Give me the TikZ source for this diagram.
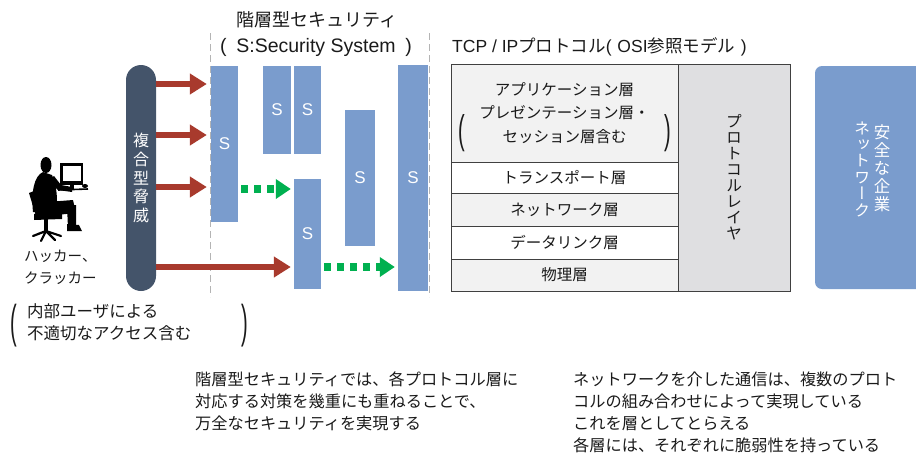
\documentclass[tikz,border=0pt]{standalone}
\usepackage{fontspec}
\usepackage{graphicx}
\setmainfont{Noto Sans CJK JP}
\newfontfamily\lat{Liberation Sans}
% vertical glyph forms (long vowel mark, small kana) for stacked text
\newfontfamily\vjp[RawFeature={+vert}]{Noto Sans CJK JP}
\usetikzlibrary{arrows.meta,calc}

\definecolor{threatfill}{HTML}{44546A}
\definecolor{attackred}{HTML}{A83A2D}
\definecolor{passgreen}{HTML}{00B050}
\definecolor{secblue}{HTML}{7A9CCD}
\definecolor{rowgray}{HTML}{F2F2F2}
\definecolor{colgray}{HTML}{DFDFE1}
\definecolor{gridline}{HTML}{404040}
\definecolor{guidegray}{HTML}{B4B4B4}
\definecolor{ink}{HTML}{1A1A1A}

\newcommand{\tallparen}[2]{\scalebox{1}[#2]{\lat\fontsize{20}{20}\selectfont #1}}

\begin{document}
\begin{tikzpicture}[x=1pt,y=-1pt,
  txt/.style={inner sep=0pt, text=ink},
  threat/.style={fill=threatfill, rounded corners=15pt, minimum width=30pt,
    minimum height=226pt, inner sep=0pt, text=white, align=center,
    font=\fontsize{16}{18.6}\selectfont},
  sbox/.style={fill=secblue, inner sep=0pt, text=white,
    font=\lat\fontsize{17}{17}\selectfont},
  attack/.style={draw=attackred, line width=6.5pt,
    -{Triangle[length=17pt,width=20pt]}},
  passflow/.style={draw=passgreen, line width=7.5pt, dash pattern=on 7pt off 6pt,
    -{Triangle[length=15pt,width=19pt]}},
  guide/.style={draw=guidegray, line width=1pt, dash pattern=on 7pt off 4pt},
  cell/.style={draw=gridline, line width=1pt, inner sep=0pt, text=ink,
    align=center, font=\fontsize{15.5}{23.5}\selectfont},
  body/.style={txt, anchor=north west, align=left,
    font=\fontsize{16.2}{22}\selectfont},
]
\clip (0,0) rectangle (916,456);

% ---- attacker side ----
% hacker silhouette
\begin{scope}[fill=black]
  \fill (46,165) ellipse (5.5pt and 8pt);
  \fill (43,172) .. controls (34,176) and (31,192) .. (33,212)
        -- (56,213) .. controls (58,200) and (57,186) .. (52,175) -- cycle;
  \fill (48,180) -- (58,190) -- (72,192) -- (72,187) -- (61,185) -- (54,176) -- cycle;
  \fill (35,203) -- (73,200) -- (76,213) -- (36,217) -- cycle;
  \fill (67,206) -- (76,205) -- (76,227) -- (68,228) -- cycle;
  \fill (67,224) -- (79,225) -- (82,231) -- (67,231) -- cycle;
  \fill (29,193) -- (34,191) -- (41,214) -- (36,216) -- cycle;
  \fill (34,214) -- (62,213) -- (62,219) -- (34,220) -- cycle;
  \fill (44,219) rectangle (48,232);
  \draw[line width=2.2pt, line cap=round]
    (46,231) -- (33,236) (46,231) -- (61,236) (46,231) -- (41,241)
    (46,231) -- (55,240) (46,231) -- (38,234);
  \fill (60,163) rectangle (83,185);
  \fill[white] (62.5,166) rectangle (80.5,181);
  \fill (70,184) rectangle (74,190);
  \draw[line width=1.6pt] (58,190) -- (88,189);
  \fill (85,186) ellipse (3pt and 2pt);
\end{scope}

\node[txt, anchor=north west, align=left, font=\fontsize{14.5}{22}\selectfont]
  (hacker) at (24,250) {ハッカー、\\クラッカー};

\node[txt, anchor=north west, align=left, font=\fontsize{16.5}{22}\selectfont]
  (insider) at (27,303) {内部ユーザによる\\不適切なアクセス含む};
\node[txt] (insiderL) at (14,326) {\tallparen{(}{2.3}};
\node[txt] (insiderR) at (245,326) {\tallparen{)}{2.3}};

% composite threat pillar
\node[threat] (threat) at (141,178) {複\\合\\型\\脅\\威};

% ---- layered security ----
\node[txt, font=\fontsize{18}{18}\selectfont] (sectitle) at (317,20) {階層型セキュリティ};
\node[txt, font=\lat\fontsize{19.5}{19.5}\selectfont] (secsub) at (316,47)
  {(\,\,\,S:Security System\,\,\,)};

\draw[guide] (210,33) -- (210,297);
\draw[guide] (429,33) -- (429,297);

\node[sbox, minimum width=27pt, minimum height=156pt] (s1) at (224.5,144) {S};
\node[sbox, minimum width=28pt, minimum height=88pt]  (s2) at (277,110) {S};
\node[sbox, minimum width=27pt, minimum height=88pt]  (s3) at (307.5,110) {S};
\node[sbox, minimum width=30pt, minimum height=136pt] (s4) at (360,178) {S};
\node[sbox, minimum width=27pt, minimum height=110pt] (s5) at (307.5,234) {S};
\node[sbox, minimum width=30pt, minimum height=226pt] (s6) at (413,178) {S};

% attack levels
\coordinate (lvA) at (0,84);
\coordinate (lvB) at (0,135);
\coordinate (lvC) at (0,187);
\coordinate (lvD) at (0,267);
\coordinate (lvE) at (0,189);

\draw[attack] (threat.east |- lvA) -- ($(s1.west |- lvA)+(-4pt,0)$);
\draw[attack] (threat.east |- lvB) -- ($(s1.west |- lvB)+(-4pt,0)$);
\draw[attack] (threat.east |- lvC) -- ($(s1.west |- lvC)+(-4pt,0)$);
\draw[attack] (threat.east |- lvD) -- ($(s5.west |- lvD)+(-3pt,0)$);

% threats slipping through a layer
\draw[passflow] ($(s1.east |- lvE)+(3pt,0)$) -- ($(s5.west |- lvE)+(-3pt,0)$);
\draw[passflow] ($(s5.east |- lvD)+(3pt,0)$) -- ($(s6.west |- lvD)+(-3pt,0)$);

% ---- protocol stack ----
\node[txt, anchor=west, font=\fontsize{17.5}{17.5}\selectfont] (tcptitle) at (452,47)
  {{\lat TCP / IP}プロトコル{\lat (\,\,OSI}参照モデル{\lat\,\,)}};

\node[cell, fill=rowgray, minimum width=227pt, minimum height=98pt] (app) at (564.5,113)
  {アプリケーション層\\プレゼンテーション層・\\セッション層含む};
\node[txt] (appL) at (462,133) {\tallparen{(}{2.0}};
\node[txt] (appR) at (668,133) {\tallparen{)}{2.0}};
\node[cell, fill=white, minimum width=227pt, minimum height=31pt] (transport) at (564.5,177.5) {トランスポート層};
\node[cell, fill=rowgray, minimum width=227pt, minimum height=33pt] (network) at (564.5,209.5) {ネットワーク層};
\node[cell, fill=white, minimum width=227pt, minimum height=33pt] (datalink) at (564.5,242.5) {データリンク層};
\node[cell, fill=rowgray, minimum width=227pt, minimum height=32pt] (physical) at (564.5,275) {物理層};
\node[cell, fill=colgray, minimum width=112pt, minimum height=227pt,
  font=\vjp\fontsize{16}{16}\selectfont] (protocol) at (734,177.5)
  {プ\\ロ\\ト\\コ\\ル\\レ\\イ\\ヤ};

% ---- protected corporate network ----
\node[fill=secblue, rounded corners=7pt, minimum width=130pt, minimum height=223pt,
  inner sep=0pt] (corp) at (880,177.5) {};
\node[txt, text=white, align=center, font=\vjp\fontsize{16.5}{18}\selectfont]
  (corpA) at (882,168) {安\\全\\な\\企\\業};
\node[txt, text=white, align=center, font=\vjp\fontsize{16}{16.4}\selectfont]
  (corpB) at (862,169) {ネ\\ッ\\ト\\ワ\\ー\\ク};

% ---- notes ----
\node[body] (noteL) at (195,372)
  {階層型セキュリティでは、各プロトコル層に\\対応する対策を幾重にも重ねることで、\\万全なセキュリティを実現する};
\node[body] (noteR) at (573,372)
  {ネットワークを介した通信は、複数のプロト\\コルの組み合わせによって実現している\\これを層としてとらえる\\各層には、それぞれに脆弱性を持っている};
\end{tikzpicture}
\end{document}
